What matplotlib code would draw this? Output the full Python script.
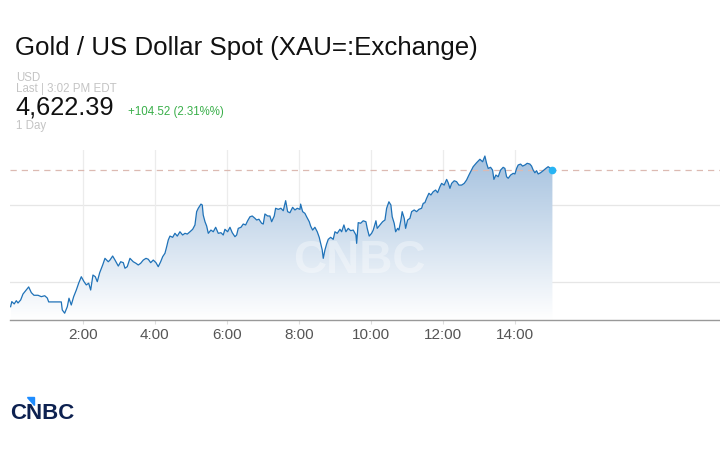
import numpy as np
import matplotlib.pyplot as plt
from matplotlib.patches import Polygon
from matplotlib.colors import LinearSegmentedColormap

plt.rcParams['font.family'] = ['Liberation Sans', 'DejaVu Sans']

# minutes after midnight (EDT) and XAU spot price
minutes = [0, 2, 6, 9.5, 12.3, 16.8, 20.6, 26.1, 30.1, 34.5, 38.9, 45.6, 51.1, 56.8, 61.1, 63.4,
           84.4, 86, 90, 94.4, 97.2, 101, 105, 109.4, 113.3, 117.7, 122.2, 126, 130, 133.3, 137.1,
           141, 144.3, 148.3, 153.3, 157.1, 162.6, 165.4, 169.9, 173.8, 179.3, 183.3, 187.6, 190.4,
           194.2, 198.7, 204.2, 208.7, 212.5, 216.5, 220.9, 225.4, 229.2, 233.2, 237.5, 242, 245.8,
           249.8, 253.2, 257, 259.8, 262.5, 265.3, 269.8, 273.6, 277.5, 281.9, 286.4, 290.3, 294.1,
           298.6, 303.1, 306.9, 309.7, 312.4, 316.9, 319.1, 320.7, 323.6, 326.4, 329.1, 333.5, 337.4,
           341.4, 345.7, 350.2, 354, 356.8, 361.3, 365.2, 369, 373.5, 376.3, 379, 383.5, 387.3, 391.3,
           394.6, 398.5, 402.3, 406.8, 409.6, 413.4, 417.9, 420.6, 423.4, 427.9, 431.7, 434.6, 438.9,
           441.2, 445.6, 450, 453.9, 457.9, 461.2, 465, 469.5, 473.4, 477.2, 481.7, 482.8, 486.2, 490,
           492.8, 497.2, 499.5, 502.8, 506.6, 510.5, 513.8, 516.1, 518.8, 520.5, 523.3, 526.1, 528.8,
           532.8, 537.1, 540, 543.8, 548.3, 551.1, 554.9, 558.2, 562.1, 566.1, 570.4, 574.9, 576.1,
           578.7, 582.7, 587, 591.5, 593.7, 597, 601, 603.7, 608.2, 610.3, 614.8, 619.3, 623.2, 626,
           629.8, 633.1, 635.3, 638.6, 641, 644.3, 646.4, 649.8, 651.9, 655.3, 657.6, 660.9, 664.8,
           667.6, 671.9, 675.9, 679.7, 684.2, 686.9, 689.7, 692.5, 696.4, 699.7, 703.5, 707.5, 710.9,
           714.7, 717.5, 721.8, 725.9, 728.5, 731.4, 734.2, 738.5, 742.5, 746.3, 750.8, 755.1, 759.1,
           763, 770.1, 775.8, 781.3, 785.8, 789.6, 792.4, 795.1, 799.1, 802.4, 804.6, 807.9, 811.7,
           815.7, 820, 822.9, 825.7, 828.4, 832.4, 836.7, 839.6, 842.4, 845, 849, 852.4, 856.2, 860,
           864.5, 867.3, 870, 872.8, 875.6, 878.3, 882.3, 886.6, 891.1, 894.9, 898.9, 902]
price = [4534.2, 4537.5, 4536.0, 4538.1, 4536.6, 4538.6, 4542.4, 4545.0, 4547.0, 4543.3, 4541.6,
         4541.6, 4540.7, 4541.3, 4539.8, 4537.3, 4537.3, 4532.1, 4530.0, 4534.2, 4539.7, 4535.3,
         4540.7, 4545.0, 4549.4, 4553.6, 4550.4, 4548.3, 4549.4, 4545.0, 4554.7, 4553.6, 4550.4,
         4556.2, 4561.2, 4565.5, 4563.3, 4564.4, 4567.0, 4564.4, 4560.5, 4563.3, 4562.7, 4559.1,
         4560.1, 4565.5, 4563.3, 4562.3, 4561.2, 4562.3, 4564.4, 4565.5, 4564.9, 4562.7, 4564.4,
         4562.7, 4560.1, 4563.3, 4566.6, 4568.8, 4573.0, 4577.4, 4579.9, 4579.1, 4581.7, 4579.9,
         4582.7, 4580.6, 4581.7, 4581.2, 4582.7, 4584.3, 4587.1, 4595.7, 4597.9, 4600.6, 4600.0,
         4593.5, 4589.2, 4586.4, 4581.7, 4583.8, 4582.7, 4585.6, 4581.7, 4582.1, 4580.6, 4584.3,
         4582.7, 4585.6, 4582.1, 4579.5, 4580.6, 4584.9, 4585.6, 4587.7, 4587.1, 4589.8, 4592.4,
         4592.9, 4591.4, 4590.3, 4590.8, 4588.2, 4587.7, 4594.2, 4592.9, 4592.9, 4589.2, 4592.9,
         4597.9, 4597.2, 4597.9, 4596.3, 4602.8, 4595.7, 4595.0, 4598.5, 4596.8, 4597.9, 4597.2,
         4600.6, 4595.7, 4594.6, 4592.4, 4589.2, 4586.4, 4583.8, 4585.6, 4582.7, 4579.1, 4575.2,
         4570.9, 4565.5, 4570.9, 4574.8, 4577.8, 4579.1, 4577.8, 4582.7, 4581.7, 4584.3, 4582.7,
         4587.1, 4582.7, 4584.9, 4583.4, 4583.8, 4580.6, 4575.2, 4588.6, 4588.2, 4589.8, 4589.2,
         4584.9, 4579.9, 4581.7, 4583.8, 4589.8, 4584.9, 4587.1, 4589.2, 4590.3, 4597.9, 4602.1,
         4600.0, 4592.4, 4588.2, 4582.7, 4584.9, 4583.8, 4590.3, 4595.7, 4591.4, 4584.9, 4590.3,
         4591.4, 4595.7, 4596.8, 4595.7, 4597.2, 4597.9, 4601.1, 4601.5, 4604.3, 4607.6, 4606.5,
         4608.6, 4609.7, 4608.0, 4611.8, 4614.0, 4612.9, 4616.6, 4614.4, 4610.8, 4614.0, 4615.7,
         4615.1, 4612.9, 4612.9, 4614.0, 4616.2, 4619.4, 4624.8, 4627.4, 4629.6, 4628.0, 4631.7,
         4627.0, 4623.7, 4624.4, 4622.6, 4616.6, 4619.4, 4618.3, 4622.6, 4624.4, 4623.7, 4618.3,
         4617.3, 4619.4, 4620.5, 4620.1, 4623.7, 4625.9, 4626.5, 4625.2, 4625.9, 4627.0, 4626.5,
         4625.2, 4622.6, 4620.9, 4622.2, 4620.1, 4620.9, 4622.2, 4623.7, 4624.8, 4623.7, 4622.39]

last_price = 4622.39
tick_minutes = [120, 240, 360, 480, 600, 720, 840]
tick_labels = ['2:00', '4:00', '6:00', '8:00', '10:00', '12:00', '14:00']
grid_prices = [4550, 4600]

fig = plt.figure(figsize=(7.2, 4.5), dpi=100)
ax = fig.add_axes([10 / 720, 1 - 320 / 450, 710 / 720, 170 / 450])
x_lo, x_hi = -1, 1181
y_lo, y_hi = 4525.6, 4635.6
ax.set_xlim(x_lo, x_hi)
ax.set_ylim(y_lo, y_hi)

for gp in grid_prices:
    ax.axhline(gp, color='#e6e6e6', lw=0.9, zorder=0)
for tm in tick_minutes:
    ax.axvline(tm, color='#ececec', lw=0.9, zorder=0)

# gradient area under the line, clipped to the price curve
top = max(price)
grad = np.linspace(1, 0, 256).reshape(-1, 1)
cmap = LinearSegmentedColormap.from_list('g', ['#ffffff', '#a6c2df'])
img = ax.imshow(grad, cmap=cmap, aspect='auto', extent=[minutes[0], minutes[-1], y_lo, top],
                origin='upper', zorder=1)
clip = Polygon(np.column_stack([[minutes[0]] + minutes + [minutes[-1]],
                                [y_lo] + price + [y_lo]]), closed=True, transform=ax.transData)
img.set_clip_path(clip)

ax.text(581, 4564, 'CNBC', color='white', alpha=0.35, fontsize=33, fontweight='bold',
        ha='center', va='center', zorder=2)

ax.plot(minutes, price, color='#1f72b8', lw=0.9, zorder=3)
ax.axhline(last_price, color='#dcbab2', lw=0.9, dashes=(5, 4), zorder=2)
ax.plot([minutes[-1]], [price[-1]], 'o', color='#27b4f4', ms=4.5, zorder=4)

for s in ['top', 'right', 'left']:
    ax.spines[s].set_visible(False)
ax.spines['bottom'].set_color('#999999')
ax.spines['bottom'].set_linewidth(1.0)
ax.set_yticks([])
ax.set_xticks(tick_minutes)
ax.set_xticklabels(tick_labels, fontsize=11, color='#555555')
ax.tick_params(axis='x', length=3, color='#dddddd', pad=3)

# header
fig.text(15 / 720, 1 - 55 / 450, 'Gold / US Dollar Spot (XAU=:Exchange)', fontsize=18.6,
         color='#111111', va='baseline')
fig.text(16 / 720, 1 - 81 / 450, 'USD', fontsize=8.3, color='#c4c4c4', va='baseline')
fig.text(16 / 720, 1 - 92.5 / 450, 'Last | 3:02 PM EDT', fontsize=8.3, color='#c4c4c4', va='baseline')
fig.text(15 / 720, 1 - 115 / 450, '4,622.39', fontsize=18.3, color='#111111', va='baseline')
fig.text(128 / 720, 1 - 115 / 450, '+104.52 (2.31%%)', fontsize=8.3, color='#3aaf4a', va='baseline')
fig.text(16 / 720, 1 - 129 / 450, '1 Day', fontsize=8.3, color='#c4c4c4', va='baseline')

# logo
fig.text(10 / 720, 1 - 419 / 450, 'CNBC', fontsize=16, fontweight='bold', color='#0d2150',
         va='baseline')
fig.patches.append(Polygon([[27 / 720, 1 - 397 / 450], [34 / 720, 1 - 397 / 450],
                            [34 / 720, 1 - 405 / 450]], closed=True, color='#1e8cff',
                           transform=fig.transFigure, figure=fig))

fig.savefig('out.png', dpi=100)
